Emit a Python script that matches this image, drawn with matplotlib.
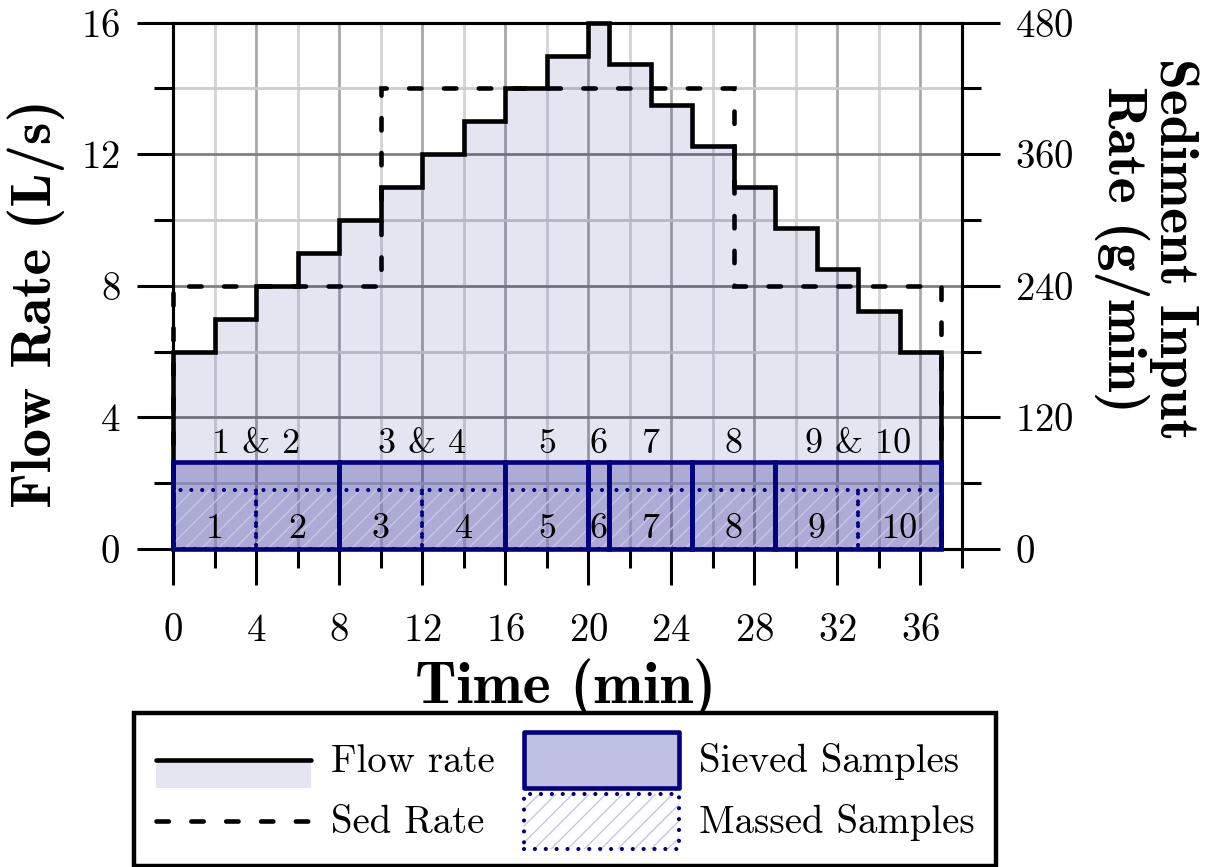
import matplotlib
matplotlib.use("Agg")
import matplotlib.pyplot as plt
from matplotlib.patches import Patch, Rectangle, Polygon
from matplotlib.legend_handler import HandlerPatch, HandlerTuple

plt.rcParams["font.family"] = ["cmr10"]
plt.rcParams["mathtext.fontset"] = "cm"
plt.rcParams["axes.formatter.use_mathtext"] = True
plt.rcParams["hatch.linewidth"] = 1.0

# flow rate hydrograph (L/s)
flow_edges = [0, 2, 4, 6, 8, 10, 12, 14, 16, 18, 20, 21, 23, 25, 27, 29, 31, 33, 35, 37]
flow_rate = [6, 7, 8, 9, 10, 11, 12, 13, 14, 15, 16,
             14.75, 13.5, 12.25, 11, 9.75, 8.5, 7.25, 6]

# sediment feed (g/min)
sed_edges = [0, 10, 27, 37]
sed_rate = [240, 420, 240]

# sample windows (min)
sieved_start = [0, 8, 16, 20, 21, 25, 29]
sieved_end = [8, 16, 20, 21, 25, 29, 37]
sieved_names = ["1 & 2", "3 & 4", "5", "6", "7", "8", "9 & 10"]

massed_start = [0, 4, 8, 12, 16, 20, 21, 25, 29, 33]
massed_end = [4, 8, 12, 16, 20, 21, 25, 29, 33, 37]
massed_names = ["1", "2", "3", "4", "5", "6", "7", "8", "9", "10"]

sieved_h = 2.65
massed_h = 1.78

navy = "#000080"
flow_fill = (0, 0, 0.5, 0.1)
sieve_fill = (0, 0, 0.5, 0.25)
hatch_col = "#c6c6e6"
lw = 3.3
dot_lw = 3.0
dash = (0, (2.7, 4.9))
dots = (0, (0.01, 2.6))

fig = plt.figure(figsize=(12.23, 8.67), dpi=100)
ax = fig.add_axes([0.1415, 0.3668, 0.6451, 0.6070])
ax2 = ax.twinx()
# sediment line + grid sit underneath everything else
ax2.set_zorder(0)
ax.set_zorder(1)
ax.patch.set_visible(False)

ax.set_xlim(0, 38)
ax.set_ylim(0, 16)
ax2.set_ylim(0, 480)
ax.set_xticks(range(0, 37, 4))
ax.set_xticks(range(2, 39, 4), minor=True)
ax.set_yticks(range(0, 17, 4))
ax.set_yticks(range(2, 15, 4), minor=True)
ax2.set_yticks(range(0, 481, 120))
ax2.set_yticks(range(60, 421, 120), minor=True)

# grid drawn on the lower axes
ax2.xaxis.set_visible(True)
ax2.tick_params(axis="x", which="both", bottom=False, top=False,
                labelbottom=False, labeltop=False)
ax2.grid(True, axis="x", which="major", color="#a8a8a8", lw=2.0)
ax2.grid(True, axis="x", which="minor", color="#d4d4d4", lw=2.0)
ax2.grid(True, axis="y", which="major", color="#808080", lw=2.0)
ax2.grid(True, axis="y", which="minor", color="#cccccc", lw=2.0)

for a in (ax, ax2):
    for s in a.spines.values():
        s.set_linewidth(2.2)

ax.tick_params(axis="both", which="major", direction="out", length=26, width=2.2,
               labelsize=28)
ax.tick_params(axis="both", which="minor", direction="out", length=14, width=2.2)
ax.tick_params(axis="x", which="major", pad=20)
ax.tick_params(axis="y", which="major", pad=12)
ax2.tick_params(axis="y", which="major", direction="out", length=27, width=2.2,
                labelsize=28, pad=11)
ax2.tick_params(axis="y", which="minor", direction="out", length=14, width=2.2)

# sediment input
ax2.stairs(sed_rate, sed_edges, baseline=0, color="k", lw=lw, linestyle=dash,
           capstyle="round", zorder=3, clip_on=False)

# flow rate
ax.stairs(flow_rate, flow_edges, baseline=0, fill=True, color=flow_fill, lw=0)
ax.stairs(flow_rate, flow_edges, baseline=0, color="k", lw=lw, zorder=2.8,
          clip_on=False)

# massed samples
for x0, x1, name in zip(massed_start, massed_end, massed_names):
    ax.add_patch(Rectangle((x0, 0), x1 - x0, massed_h, facecolor="none",
                           edgecolor=hatch_col, hatch="//", lw=0, zorder=3))
    ax.add_patch(Rectangle((x0, 0), x1 - x0, massed_h, facecolor="none",
                           edgecolor=navy, lw=dot_lw, linestyle=dots,
                           capstyle="round", zorder=3.1, clip_on=False))
    ax.text((x0 + x1) / 2, 0.34, name, ha="center", va="baseline", fontsize=26,
            zorder=4)

# sieved samples
for x0, x1, name in zip(sieved_start, sieved_end, sieved_names):
    ax.add_patch(Rectangle((x0, 0), x1 - x0, sieved_h, facecolor=sieve_fill,
                           edgecolor="none", zorder=2.9))
    ax.add_patch(Rectangle((x0, 0), x1 - x0, sieved_h, facecolor="none",
                           edgecolor=navy, lw=lw, zorder=3.2, clip_on=False))
    ax.text((x0 + x1) / 2, 2.93, name, ha="center", va="baseline", fontsize=26,
            zorder=4)

ax.set_xlabel("Time (min)", fontfamily="cmb10", fontsize=43, va="center")
ax.xaxis.set_label_coords(0.498, -0.264)
ax.set_ylabel("Flow Rate (L/s)", fontfamily="cmb10", fontsize=41, va="center")
ax.yaxis.set_label_coords(-0.174, 0.467)
ax2.set_ylabel("Sediment Input\nRate (g/min)", fontfamily="cmb10", fontsize=40,
               rotation=270, va="center", ha="center", multialignment="center",
               linespacing=1.0)
ax2.yaxis.set_label_coords(1.233, 0.569)


# legend handles all centred on the middle of the label text
def mid(fontsize):
    return 0.3 * fontsize


def box_h(fontsize):
    return 1.43 * fontsize


def line_handle(legend, orig_handle, xdescent, ydescent, width, height, fontsize):
    yc = mid(fontsize)
    return Polygon([[-xdescent, yc], [-xdescent + width, yc]], closed=False,
                   capstyle="round")


def lower_half(legend, orig_handle, xdescent, ydescent, width, height, fontsize):
    bh = box_h(fontsize)
    return Rectangle((-xdescent, mid(fontsize) - bh / 2), width, bh / 2)


def full_box(legend, orig_handle, xdescent, ydescent, width, height, fontsize):
    bh = box_h(fontsize)
    return Rectangle((-xdescent, mid(fontsize) - bh / 2), width, bh,
                     capstyle="round", joinstyle="round")


h_fill = Patch(facecolor=flow_fill, lw=0)
h_flow = Patch(facecolor="none", edgecolor="k", lw=lw)
h_sed = Patch(facecolor="none", edgecolor="k", lw=lw, linestyle=dash)
h_sieved = Patch(facecolor=sieve_fill, edgecolor=navy, lw=lw)
h_mass_hatch = Patch(facecolor="white", edgecolor=hatch_col, hatch="//", lw=0)
h_mass_edge = Patch(facecolor="none", edgecolor=navy, lw=dot_lw, linestyle=dots)

leg = fig.legend(
    [(h_fill, h_flow), h_sed, h_sieved, (h_mass_hatch, h_mass_edge)],
    ["Flow rate", "Sed Rate", "Sieved Samples", "Massed Samples"],
    handler_map={h_fill: HandlerPatch(patch_func=lower_half),
                 h_flow: HandlerPatch(patch_func=line_handle),
                 h_sed: HandlerPatch(patch_func=line_handle),
                 h_sieved: HandlerPatch(patch_func=full_box),
                 h_mass_hatch: HandlerPatch(patch_func=full_box),
                 h_mass_edge: HandlerPatch(patch_func=full_box),
                 tuple: HandlerTuple(ndivide=1, pad=0)},
    ncol=2, loc="upper center", bbox_to_anchor=(565 / 1223, 1 - 713 / 867),
    borderaxespad=0, fontsize=28, handlelength=4.0, handleheight=1.58,
    handletextpad=0.5, columnspacing=0.75, labelspacing=0.3, borderpad=0.55,
    fancybox=False, edgecolor="black", framealpha=1,
)
leg.get_frame().set_linewidth(3.2)

fig.savefig("out.png", dpi=100)
